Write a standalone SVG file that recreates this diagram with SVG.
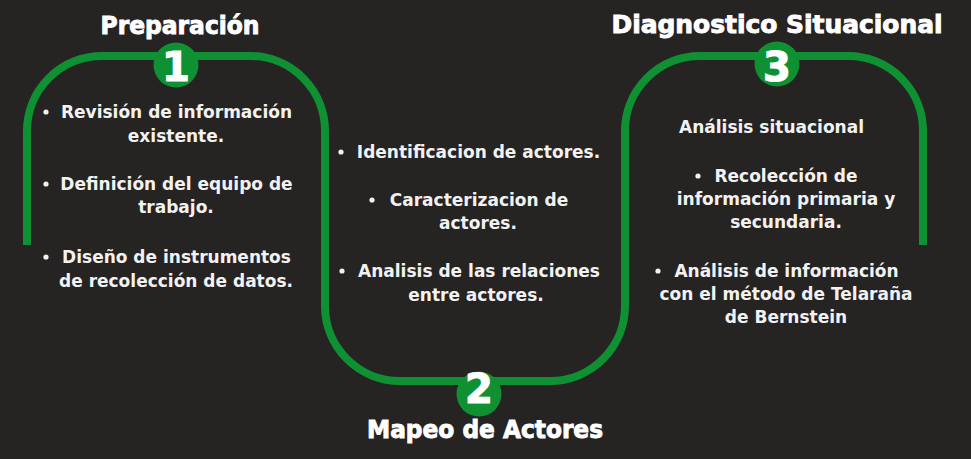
<svg xmlns="http://www.w3.org/2000/svg" width="971" height="459" viewBox="0 0 971 459">
<style>
.bg{fill:#262323}
.track{fill:none;stroke:#0f9133;stroke-width:8}
.badge{fill:#0f9133}
.num{font-family:"DejaVu Sans","Liberation Sans",sans-serif;font-weight:bold;font-size:40px;fill:#ffffff;stroke:#ffffff;stroke-width:1.2;text-anchor:middle}
.title{font-family:"DejaVu Sans","Liberation Sans",sans-serif;font-weight:bold;font-size:24px;fill:#ffffff;stroke:#ffffff;stroke-width:0.9;text-anchor:middle}
.body{font-family:"DejaVu Sans","Liberation Sans",sans-serif;font-weight:bold;font-size:17px;fill:#f2f2f2;text-anchor:middle}
.dot{fill:#f2f2f2}
</style>
<rect class="bg" x="0" y="0" width="971" height="459"/>
<g id="connectors">
<path class="track" d="M27 245 V131 A75 75 0 0 1 102 56 H250 A75 75 0 0 1 325 131 V306 A75 75 0 0 0 400 381 H550 A75 75 0 0 0 625 306 V131 A75 75 0 0 1 700 56 H848 A75 75 0 0 1 923 131 V245"/>
</g>
<g id="step1">
<text class="title" x="180" y="34" textLength="159" lengthAdjust="spacingAndGlyphs">Preparación</text>
<circle class="badge" cx="176" cy="65" r="22.5"/>
<text class="num" x="176" y="81">1</text>
<circle class="dot" cx="46" cy="112" r="2.6"/>
<text class="body" x="176.5" y="118">Revisión de información</text>
<text class="body" x="176" y="142">existente.</text>
<circle class="dot" cx="46" cy="184" r="2.6"/>
<text class="body" x="176.5" y="190">Definición del equipo de</text>
<text class="body" x="176" y="213">trabajo.</text>
<circle class="dot" cx="46" cy="257" r="2.6"/>
<text class="body" x="176.5" y="263">Diseño de instrumentos</text>
<text class="body" x="176" y="287">de recolección de datos.</text>
</g>
<g id="step2">
<circle class="badge" cx="479" cy="394" r="22.5"/>
<text class="num" x="479" y="403">2</text>
<text class="title" x="485" y="438" textLength="236" lengthAdjust="spacingAndGlyphs">Mapeo de Actores</text>
<circle class="dot" cx="341" cy="152" r="2.6"/>
<text class="body" x="478.5" y="158">Identificacion de actores.</text>
<circle class="dot" cx="372" cy="200" r="2.6"/>
<text class="body" x="479" y="206">Caracterizacion de</text>
<text class="body" x="478" y="229">actores.</text>
<circle class="dot" cx="342" cy="271" r="2.6"/>
<text class="body" x="479" y="277">Analisis de las relaciones</text>
<text class="body" x="476" y="301">entre actores.</text>
</g>
<g id="step3">
<text class="title" x="777" y="33" textLength="331" lengthAdjust="spacingAndGlyphs">Diagnostico Situacional</text>
<circle class="badge" cx="777" cy="64" r="22.5"/>
<text class="num" x="777" y="81">3</text>
<text class="body" x="771.5" y="133">Análisis situacional</text>
<circle class="dot" cx="698" cy="176" r="2.6"/>
<text class="body" x="786" y="182">Recolección de</text>
<text class="body" x="786" y="205">información primaria y</text>
<text class="body" x="786" y="228">secundaria.</text>
<circle class="dot" cx="658" cy="271" r="2.6"/>
<text class="body" x="786.5" y="277">Análisis de información</text>
<text class="body" x="786" y="300">con el método de Telaraña</text>
<text class="body" x="786" y="323">de Bernstein</text>
</g>
</svg>
